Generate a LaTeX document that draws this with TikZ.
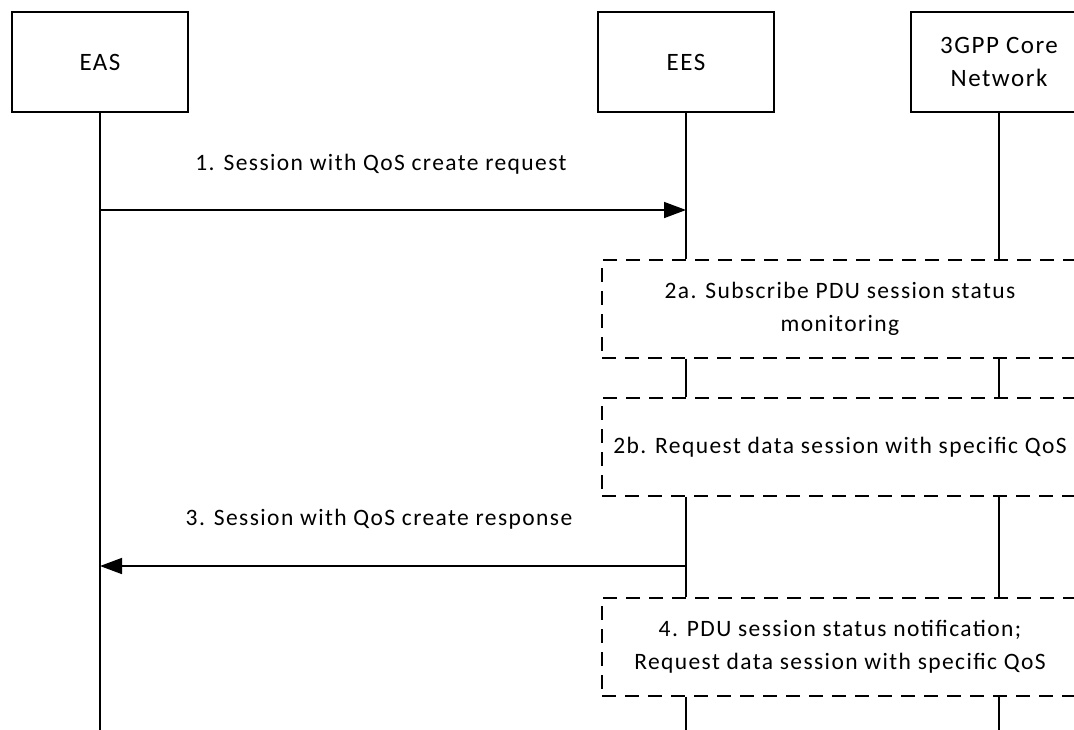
\documentclass[tikz,border=0pt]{standalone}
\usepackage{fontspec}
\setmainfont[LetterSpace=6]{Carlito}
\usetikzlibrary{arrows.meta, positioning}

\begin{document}
\begin{tikzpicture}[
x=1pt, y=-1pt,
every node/.style={align=center, font=\fontsize{23.5}{33}\selectfont},
entity/.style={rectangle, draw, line width=1.6pt, minimum width=176pt, minimum height=100pt, inner sep=0pt, font=\fontsize{25}{33}\selectfont},
stepbox/.style={rectangle, draw, dash pattern=on 14pt off 9pt, line width=1.4pt, minimum width=476pt, minimum height=98pt, inner sep=0pt},
lifeline/.style={line width=1.6pt},
msg/.style={-{Triangle[length=22pt,width=16pt]}, line width=1.6pt}
]
\clip (0,0) rectangle (1074,729);

% ENTIDADES
\node (eas) [entity] at (100,62) {EAS};
\node (ees) [entity] at (686,62) {EES};
\node (core) [entity] at (999,62) {3GPP Core\\Network};

% PASOS
\node (step2a) [stepbox] at (840,309) {2a. Subscribe PDU session status\\monitoring};
\node (step2b) [stepbox] at (840,447) {2b. Request data session with specific QoS};
\node (step4) [stepbox] at (840,647) {4. PDU session status notification;\\Request data session with specific QoS};

% FINAL
\coordinate (bottom) at (0,735);

% LINEAS DE VIDA
\draw[lifeline] (eas.south) -- (eas.south |- bottom);
\foreach \who in {ees, core} {
  \draw[lifeline] (\who.south) -- (\who.south |- step2a.north);
  \draw[lifeline] (\who.south |- step2a.south) -- (\who.south |- step2b.north);
  \draw[lifeline] (\who.south |- step2b.south) -- (\who.south |- step4.north);
  \draw[lifeline] (\who.south |- step4.south) -- (\who.south |- bottom);
}

% MENSAJES
\coordinate (m1) at (0,210);
\coordinate (m3) at (0,566);
\draw[msg] (eas |- m1) -- node[above=32pt, xshift=-12pt]{1. Session with QoS create request} (ees |- m1);
\draw[msg] (ees |- m3) -- node[above=33pt, xshift=-14pt]{3. Session with QoS create response} (eas |- m3);

\end{tikzpicture}
\end{document}
